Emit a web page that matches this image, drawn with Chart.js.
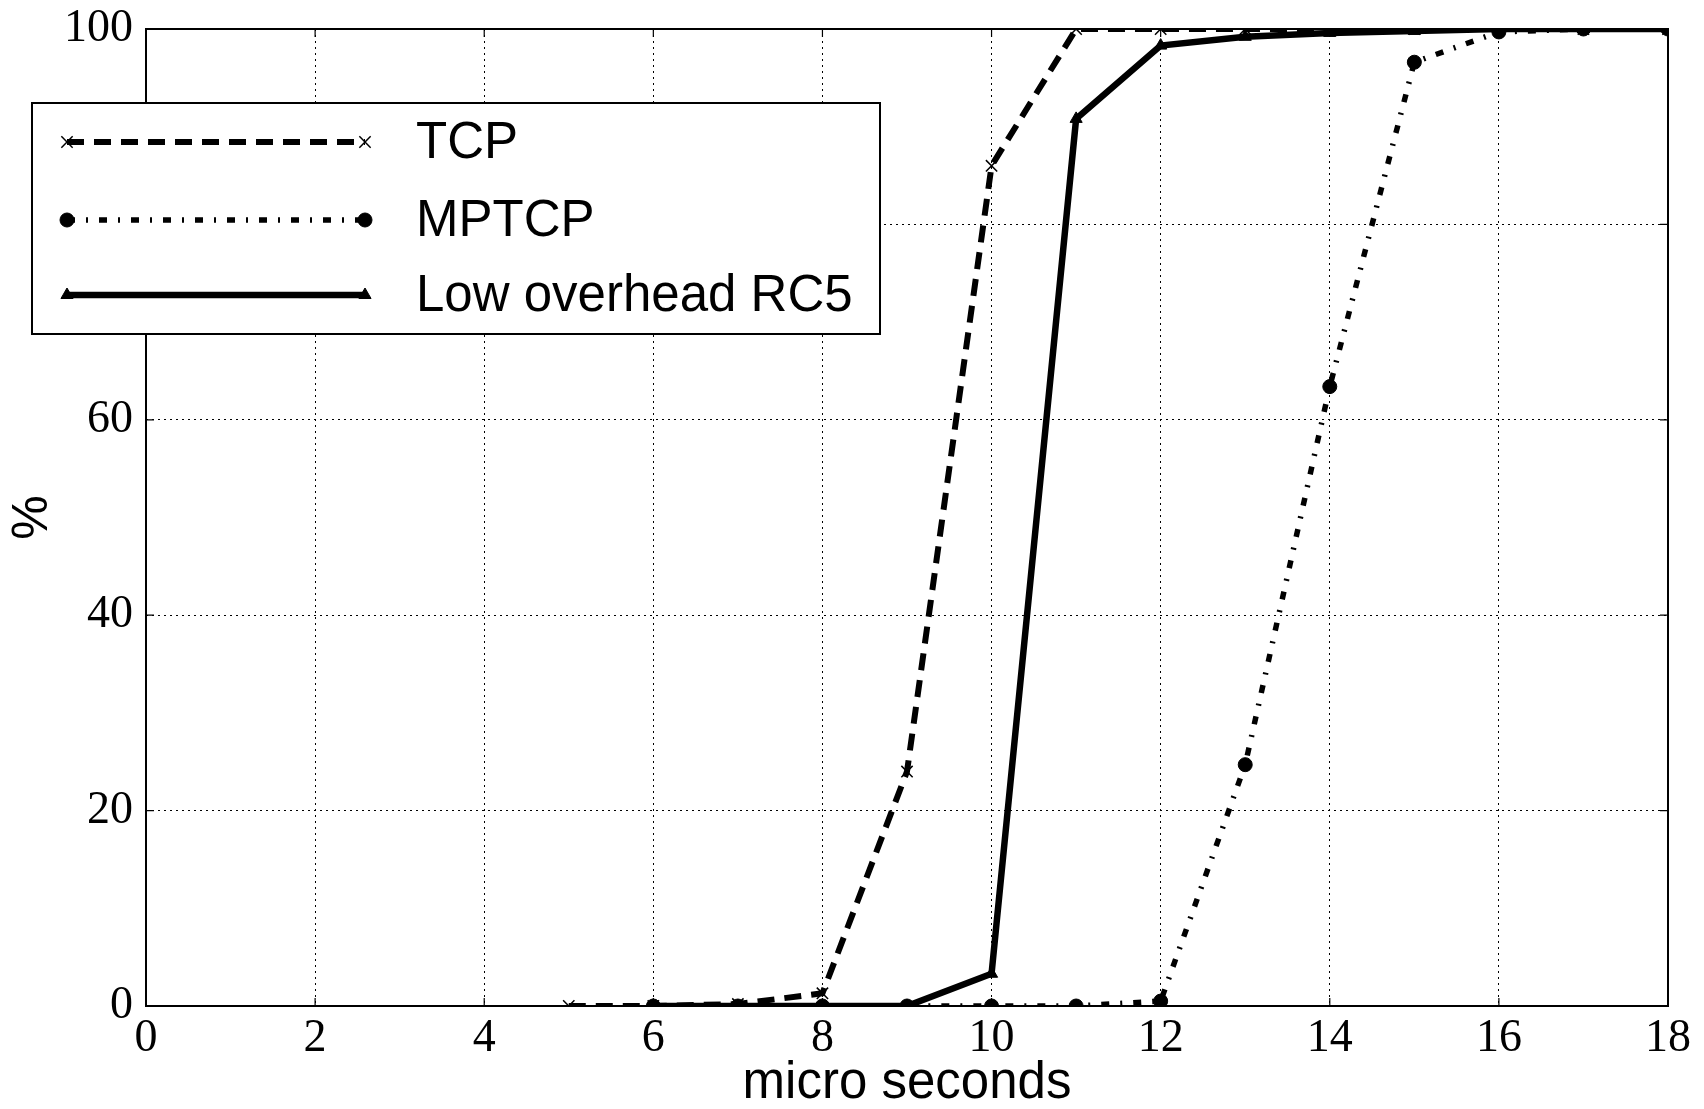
<!DOCTYPE html>
<html><head><meta charset="utf-8">
<script src="https://cdn.jsdelivr.net/npm/chart.js@4/dist/chart.umd.min.js"></script>
<style>html,body{margin:0;padding:0;background:#fff;}#wrap{width:1704px;height:1109px;}</style>
</head><body><div id="wrap"><canvas id="c" width="1704" height="1109"></canvas></div>
<script>
const xValues = [5, 6, 7, 8, 9, 10, 11, 12, 13, 14, 15, 16, 17, 18];
const tcpValues = [0, 0, 0.2, 1.3, 24, 86, 100, 100, 100, 100, 100, 100, 100, 100];
const mptcpValues = [null, 0, 0, 0, 0, 0, 0, 0.5, 24.7, 63.4, 96.6, 99.7, 100, 100];
const rc5Values = [null, 0, 0, 0, 0, 3.3, 90.8, 98.3, 99.2, 99.6, 99.8, 100, 100, 100];
const seriesNames = ['TCP', 'MPTCP', 'Low overhead RC5'];
const xTicks = [0, 2, 4, 6, 8, 10, 12, 14, 16, 18];
const yTicks = [0, 20, 40, 60, 80, 100];
const xTitle = 'micro seconds';
const yTitle = '%';

const toPts = v => xValues.map((x, i) => ({x: x, y: v[i]})).filter(p => p.y !== null);
const SANS = "'Liberation Sans', Arial, sans-serif";
const SERIF = "'Liberation Serif', 'DejaVu Serif', serif";

const styles = [
  {borderDash: [17, 10], borderWidth: 6, pointStyle: 'crossRot', pointRadius: 8, pointBorderWidth: 1.5},
  {borderDash: [8, 11, 2, 11], borderWidth: 5.5, pointStyle: 'circle', pointRadius: 7, pointBorderWidth: 1},
  {borderDash: [], borderWidth: 6.5, pointStyle: 'triangle', pointRadius: 7, pointBorderWidth: 1}
];
const allValues = [tcpValues, mptcpValues, rc5Values];

const datasets = allValues.map((v, i) => Object.assign({
  label: seriesNames[i],
  data: toPts(v),
  borderColor: '#000',
  backgroundColor: '#000',
  pointBackgroundColor: '#000',
  pointBorderColor: '#000',
  borderCapStyle: 'butt',
  borderJoinStyle: 'miter',
  tension: 0,
  fill: false,
  clip: 0
}, styles[i]));

const framePlugin = {
  id: 'frame',
  afterDatasetsDraw(chart) {
    const {ctx, chartArea: a, scales} = chart;
    ctx.save();
    ctx.strokeStyle = '#000';
    ctx.lineWidth = 2;
    ctx.setLineDash([]);
    ctx.strokeRect(a.left, a.top, a.right - a.left, a.bottom - a.top);
    ctx.lineWidth = 1.2;
    const tl = 8;
    xTicks.forEach(t => {
      const x = scales.x.getPixelForValue(t);
      ctx.beginPath();
      ctx.moveTo(x, a.bottom); ctx.lineTo(x, a.bottom - tl);
      ctx.moveTo(x, a.top); ctx.lineTo(x, a.top + tl);
      ctx.stroke();
    });
    yTicks.forEach(t => {
      const y = scales.y.getPixelForValue(t);
      ctx.beginPath();
      ctx.moveTo(a.left, y); ctx.lineTo(a.left + tl, y);
      ctx.moveTo(a.right, y); ctx.lineTo(a.right - tl, y);
      ctx.stroke();
    });
    // legend
    const bx = 32, by = 103, bw = 848, bh = 231;
    ctx.fillStyle = '#fff';
    ctx.fillRect(bx, by, bw, bh);
    ctx.lineWidth = 2;
    ctx.strokeRect(bx, by, bw, bh);
    const rows = [142, 220, 295];
    const x0 = 67, x1 = 365;
    chart.data.datasets.forEach((ds, i) => {
      const y = rows[i];
      ctx.save();
      ctx.strokeStyle = '#000';
      ctx.lineWidth = ds.borderWidth;
      ctx.lineCap = 'butt';
      ctx.setLineDash(ds.borderDash);
      ctx.beginPath(); ctx.moveTo(x0, y); ctx.lineTo(x1, y); ctx.stroke();
      ctx.restore();
      [x0, x1].forEach(px => {
        ctx.save();
        ctx.fillStyle = '#000'; ctx.strokeStyle = '#000';
        ctx.lineWidth = ds.pointBorderWidth;
        Chart.helpers.drawPoint(ctx, {pointStyle: ds.pointStyle, radius: ds.pointRadius, rotation: 0, borderWidth: ds.pointBorderWidth}, px, y);
        ctx.restore();
      });
      ctx.fillStyle = '#000';
      ctx.font = '51px ' + SANS;
      ctx.textBaseline = 'middle';
      ctx.textAlign = 'left';
      ctx.fillText(ds.label, 416, y + 2);
    });
    ctx.restore();
  }
};

new Chart(document.getElementById('c'), {
  type: 'line',
  data: {datasets},
  options: {
    responsive: false,
    animation: false,
    devicePixelRatio: 1,
    layout: {padding: {left: 0, top: 29, right: 36, bottom: 0}},
    plugins: {legend: {display: false}, tooltip: {enabled: false}},
    scales: {
      x: {
        type: 'linear', min: 0, max: 18,
        afterBuildTicks: s => { s.ticks = xTicks.map(v => ({value: v})); },
        afterFit: s => { s.height = 103; s.paddingLeft = 0; s.paddingRight = 0; },
        grid: {color: '#000', lineWidth: 1, drawTicks: false},
        border: {display: false, dash: [2, 4]},
        ticks: {color: '#000', font: {family: SERIF, size: 46}, padding: 5, maxRotation: 0, autoSkip: false},
        title: {display: true, text: xTitle, color: '#000', font: {family: SANS, size: 51, lineHeight: 1.0}, padding: {top: 0, bottom: 0}}
      },
      y: {
        type: 'linear', min: 0, max: 100,
        afterBuildTicks: s => { s.ticks = yTicks.map(v => ({value: v})); },
        afterFit: s => { s.width = 146; s.paddingTop = 0; s.paddingBottom = 0; },
        grid: {color: '#000', lineWidth: 1, drawTicks: false},
        border: {display: false, dash: [2, 4]},
        ticks: {color: '#000', font: {family: SERIF, size: 46}, padding: 13},
        title: {display: true, text: yTitle, color: '#000', font: {family: SANS, size: 50}, padding: {top: 3, bottom: 0}}
      }
    }
  },
  plugins: [framePlugin]
});
</script></body></html>
